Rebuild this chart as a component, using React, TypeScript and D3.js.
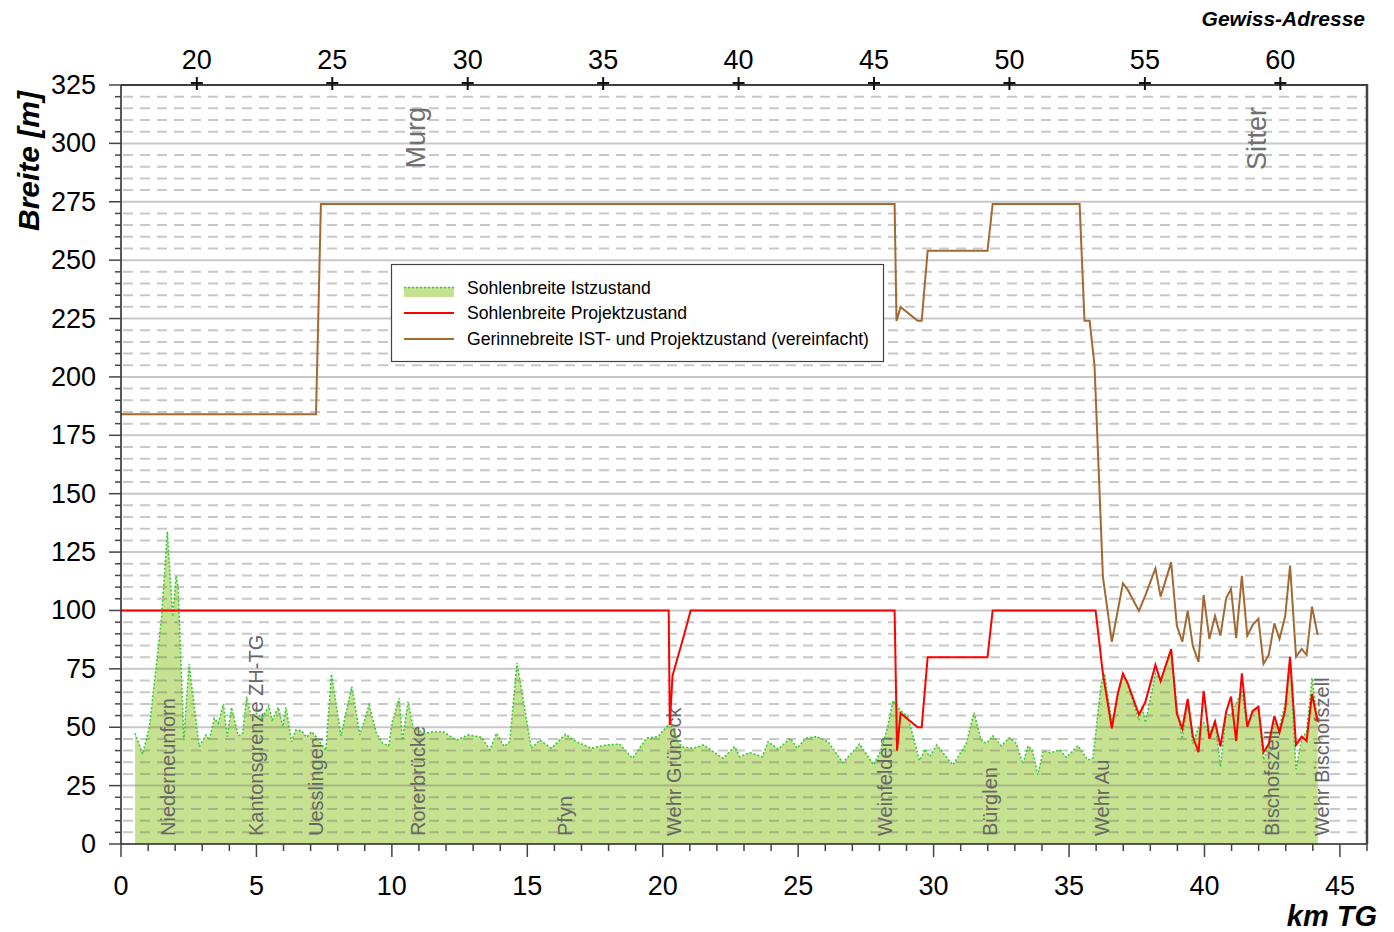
import React from 'react';
import * as d3 from 'd3';

// Sohlenbreite Istzustand (km TG, m)
const greenKm = [
  0.52, 0.8, 1.05, 1.5, 1.71, 1.91, 2.03, 2.11, 2.32, 2.51, 2.89, 3.14, 3.26, 3.44, 3.59, 3.78, 3.92, 4.08, 4.33, 4.49,
  4.64, 4.8, 5.0, 5.2, 5.46, 5.58, 5.81, 5.97, 6.09, 6.3, 6.45, 6.67, 6.85, 7.04, 7.22, 7.56, 7.77, 8.12, 8.52, 8.82,
  9.16, 9.43, 9.66, 9.88, 10.02, 10.27, 10.39, 10.6, 10.79, 11.22, 11.5, 11.89, 12.39, 12.82, 13.31, 13.62, 13.86, 14.15,
  14.35, 14.62, 14.97, 15.15, 15.46, 15.89, 16.41, 16.81, 17.37, 17.92, 18.41, 18.88, 19.4, 19.83, 20.26, 20.69, 21.12,
  21.51, 22.04, 22.23, 22.66, 22.84, 23.21, 23.68, 23.89, 24.26, 24.71, 24.96, 25.28, 25.67, 26.1, 26.65, 27.27, 27.79,
  28.05, 28.3, 28.5, 28.75, 29.05, 29.48, 29.69, 29.85, 30.12, 30.71, 31.21, 31.49, 31.76, 31.94, 32.19, 32.5, 32.8,
  33.05, 33.3, 33.48, 33.65, 33.85, 34.05, 34.3, 34.65, 34.9, 35.33, 35.69, 35.88, 36.19, 36.31, 36.58, 36.8, 36.99,
  37.17, 37.58, 37.7, 37.82, 38.19, 38.38, 38.77, 38.98, 39.18, 39.38, 39.57, 39.78, 39.97, 40.18, 40.39, 40.59, 40.8,
  40.98, 41.17, 41.38, 41.58, 41.78, 41.99, 42.18, 42.37, 42.58, 42.77, 42.98, 43.16, 43.38, 43.59, 43.77, 43.97, 44.18,
];
const greenVal = [
  47.4, 38.5, 50.2, 97.4, 133.7, 97.4, 114.8, 110.2, 44.5, 77.1, 41.7, 46.7, 44.5, 53.8, 51.7, 60, 46, 58.5, 46.3, 47.4,
  63.1, 54.5, 56, 54, 59.1, 53.1, 58.5, 50.2, 58.5, 43.8, 48.8, 48.5, 45.7, 48.1, 45.7, 40, 72.8, 46.3, 67.4, 46.7,
  59.5, 47.4, 43.1, 42, 52.4, 62.4, 44.5, 61, 49.5, 47.4, 48, 48.1, 44.5, 46.7, 45.7, 40.3, 47.4, 41.7,
  43.8, 77.6, 53.1, 41, 44.5, 41, 47, 43.8, 41, 42.4, 42.8, 36.7, 45.3, 46, 51.7, 41.7, 41,
  42.4, 38.1, 36.7, 41.7, 37.4, 39.1, 37.4, 43.8, 40.6, 45.3, 41, 45.3, 46, 43.8, 34.8, 42.8, 33.8,
  40, 50, 61.4, 57.4, 54.5, 35.7, 40.6, 37.4, 42.4, 33.8, 43.1, 56.2, 44.5, 43.1, 46.3, 42, 45.5,
  43.1, 34.3, 42, 40, 29.6, 40, 39, 40.3, 37.1, 42.1, 36, 36.7, 68.8, 73, 52, 63, 73,
  68, 53, 59, 52, 73, 70, 83, 58, 45, 62, 43, 50, 52, 47, 53, 33, 56,
  55, 60, 66, 50, 57, 58, 36, 42, 52, 50, 60, 80, 32, 45, 48, 71, 52,
];

// Sohlenbreite Projektzustand
const redKm = [
  0, 20.22, 20.26, 20.36, 20.8, 21.03, 28.56, 28.65, 28.78, 29.41, 29.56, 29.78, 31.99, 32.18, 35.98, 36.25, 36.58,
  36.8, 36.99, 37.17, 37.58, 37.82, 38.19, 38.38, 38.77, 38.98, 39.18, 39.38, 39.57, 39.78, 39.97, 40.18, 40.39,
  40.59, 40.8, 40.98, 41.17, 41.38, 41.58, 41.78, 41.99, 42.18, 42.37, 42.58, 42.77, 42.98, 43.16, 43.38, 43.59,
  43.77, 43.97, 44.18,
];
const redVal = [
  100, 100, 51, 72, 90, 100, 100, 40, 56, 50, 50, 80, 80, 100, 100, 73, 49.5,
  64.5, 73, 68.7, 55.4, 60.9, 76.7, 69.8, 83.5, 55.9, 49.3, 62.1, 46, 39.3, 65.6, 45, 52.4,
  41.7, 56.6, 63.1, 44.1, 73.1, 50.2, 57, 58.8, 39.3, 42.8, 54.8, 47.8, 57.4, 80.2, 42.4, 46,
  44.1, 64.2, 52.4,
];

// Gerinnebreite IST- und Projektzustand (vereinfacht)
const brownKm = [
  0, 7.2, 7.38, 28.56, 28.63, 28.78, 29.41, 29.56, 29.78, 31.99, 32.18, 35.39, 35.57, 35.76, 35.94, 36.25, 36.58,
  36.99, 37.17, 37.58, 37.82, 38.19, 38.38, 38.77, 38.98, 39.18, 39.38, 39.57, 39.78, 39.97, 40.18, 40.39, 40.59,
  40.8, 40.98, 41.17, 41.38, 41.58, 41.78, 41.99, 42.18, 42.37, 42.58, 42.77, 42.98, 43.16, 43.38, 43.59, 43.77,
  43.97, 44.18,
];
const brownVal = [
  184, 184, 274, 274, 224, 230, 224, 224, 254, 254, 274, 274, 224, 224, 205, 114.5, 86.6,
  111.6, 108.8, 99.8, 106.6, 118, 105.9, 120.6, 93.4, 86.6, 99.8, 84.8, 78, 106.6, 87.8, 97.6, 89.2,
  105.2, 109.2, 88.1, 114.8, 89.2, 93.8, 96.4, 77.1, 80.9, 94.5, 87.8, 97.6, 119.2, 80.2, 83.5, 80.9,
  101.6, 89.5,
];

const yTicks = d3.range(0, 326, 25);
const xTicks = d3.range(0, 46, 5);
const topTicks = [20, 25, 30, 35, 40, 45, 50, 55, 60];
const TOP_OFFSET = 17.2; // Gewiss-Adresse = km TG + offset

const stationNames = ['Niederneunforn', 'Kantonsgrenze ZH-TG', 'Uesslingen', 'Rorerbrücke', 'Pfyn', 'Wehr Grüneck',
  'Weinfelden', 'Bürglen', 'Wehr Au', 'Bischofszell', 'Wehr Bischofszell'];
const stationKm = [1.73, 4.98, 7.2, 10.96, 16.4, 20.4, 28.2, 32.1, 36.2, 42.5, 44.35];
const riverNames = ['Murg', 'Sitter'];
const riverKm = [10.9, 41.95];

const FONT = "'Liberation Sans', Arial, Helvetica, sans-serif";
const GREEN_FILL = '#c6e18f';
const GREEN_LINE = '#3acb3a';
const RED = '#ff0000';
const BROWN = '#a26a32';
const GRID = 'rgba(110,110,110,0.38)';

export default function App() {
  const x = d3.scaleLinear().domain([0, 46]).range([121, 1367]);
  const y = d3.scaleLinear().domain([0, 325]).range([844, 85]);

  const green = greenKm.map((k, i) => [k, greenVal[i]]);
  const red = redKm.map((k, i) => [k, redVal[i]]);
  const brown = brownKm.map((k, i) => [k, brownVal[i]]);

  const area = d3.area<number[]>().x(d => x(d[0])).y0(y(0)).y1(d => y(d[1]));
  const line = d3.line<number[]>().x(d => x(d[0])).y(d => y(d[1]));

  const minorY = d3.range(5, 325, 5).filter(v => v % 25 !== 0);
  const majorY = d3.range(25, 326, 25);
  const kmTicks = d3.range(0, 47, 1);
  const [x0, x1] = x.range();

  return (
    <svg width={1394} height={932} style={{ position: 'absolute', left: 0, top: 0, background: '#fff' }}
      fontFamily={FONT}>
      {/* Fläche Istzustand */}
      <path d={area(green) || ''} fill={GREEN_FILL} />

      {/* Raster */}
      {minorY.map(v => (
        <line key={'mi' + v} x1={x0 + 2} x2={x1} y1={y(v)} y2={y(v)} stroke={GRID} strokeWidth={2}
          strokeDasharray="10,7" />
      ))}
      {majorY.map(v => (
        <line key={'ma' + v} x1={x0} x2={x1} y1={y(v)} y2={y(v)} stroke={GRID} strokeWidth={2} />
      ))}

      {/* Ortsnamen */}
      {stationNames.map((n, i) => (
        <text key={n} transform={`translate(${x(stationKm[i])},836) rotate(-90)`} fontSize={20} fill="#666"
          dominantBaseline="central">{n}</text>
      ))}
      {riverNames.map((n, i) => (
        <text key={n} transform={`translate(${x(riverKm[i])},107) rotate(-90)`} fontSize={27} fill="#707070"
          textAnchor="end" dominantBaseline="central">{n}</text>
      ))}

      {/* Linien */}
      <path d={line(green) || ''} fill="none" stroke={GREEN_LINE} strokeWidth={1.6} strokeDasharray="2,2" />
      <path d={line(brown) || ''} fill="none" stroke={BROWN} strokeWidth={2} />
      <path d={line(red) || ''} fill="none" stroke={RED} strokeWidth={2} />

      {/* Y-Achse */}
      <line x1={x0} x2={x0} y1={y(325)} y2={y(0)} stroke="#222" strokeWidth={1.5} />
      {d3.range(0, 326, 5).map(v => (
        <line key={'yt' + v} x1={v % 25 === 0 ? x0 - 12 : x0 - 6} x2={x0} y1={y(v)} y2={y(v)} stroke="#444"
          strokeWidth={1.5} />
      ))}
      {yTicks.map(v => (
        <text key={'yl' + v} x={96} y={y(v)} fontSize={27} textAnchor="end" dominantBaseline="central"
          fill="#000">{v}</text>
      ))}
      <text transform="translate(28,161) rotate(-90)" fontSize={30} fontWeight="bold" fontStyle="italic"
        textAnchor="middle" dominantBaseline="central">Breite [m]</text>

      {/* X-Achse unten */}
      <line x1={x0} x2={x1} y1={y(0)} y2={y(0)} stroke="#222" strokeWidth={1.5} />
      {kmTicks.map(k => (
        <line key={'xt' + k} x1={x(k)} x2={x(k)} y1={y(0)} y2={y(0) + (k % 5 === 0 ? 13 : 7)} stroke="#444"
          strokeWidth={1.5} />
      ))}
      {xTicks.map(k => (
        <text key={'xl' + k} x={x(k)} y={886} fontSize={27} textAnchor="middle" dominantBaseline="central">{k}</text>
      ))}
      <text x={1377} y={926} fontSize={29} fontWeight="bold" fontStyle="italic" textAnchor="end">km TG</text>

      {/* Rahmen oben / rechts, Gewiss-Adresse */}
      <line x1={x0} x2={x1} y1={y(325)} y2={y(325)} stroke="#111" strokeWidth={1.5} />
      <line x1={x1} x2={x1} y1={y(325) - 1} y2={y(0)} stroke="#444" strokeWidth={2.5} />
      {topTicks.map(t => {
        const px = x(t - TOP_OFFSET);
        return (
          <g key={'tt' + t}>
            <line x1={px} x2={px} y1={77} y2={90} stroke="#111" strokeWidth={2} />
            <line x1={px - 6} x2={px + 6} y1={83} y2={83} stroke="#111" strokeWidth={2} />
            <text x={px} y={60} fontSize={27} textAnchor="middle" dominantBaseline="central">{t}</text>
          </g>
        );
      })}
      <text x={1365} y={26} fontSize={21} fontWeight="bold" fontStyle="italic" textAnchor="end">Gewiss-Adresse</text>

      {/* Legende */}
      <g>
        <rect x={391.5} y={264.5} width={492} height={97} fill="#fff" stroke="#444" strokeWidth={1.2} />
        <rect x={404} y={287} width={50} height={10} fill={GREEN_FILL} />
        <line x1={404} x2={454} y1={287.5} y2={287.5} stroke={GREEN_LINE} strokeWidth={1.6} strokeDasharray="2,2" />
        <line x1={404} x2={454} y1={313} y2={313} stroke={RED} strokeWidth={2} />
        <line x1={404} x2={454} y1={339} y2={339} stroke={BROWN} strokeWidth={2} />
        <text x={467} y={288} fontSize={17.6} dominantBaseline="central">Sohlenbreite Istzustand</text>
        <text x={467} y={313} fontSize={17.6} dominantBaseline="central">Sohlenbreite Projektzustand</text>
        <text x={467} y={339} fontSize={17.6} dominantBaseline="central">Gerinnebreite IST- und Projektzustand (vereinfacht)</text>
      </g>
    </svg>
  );
}
